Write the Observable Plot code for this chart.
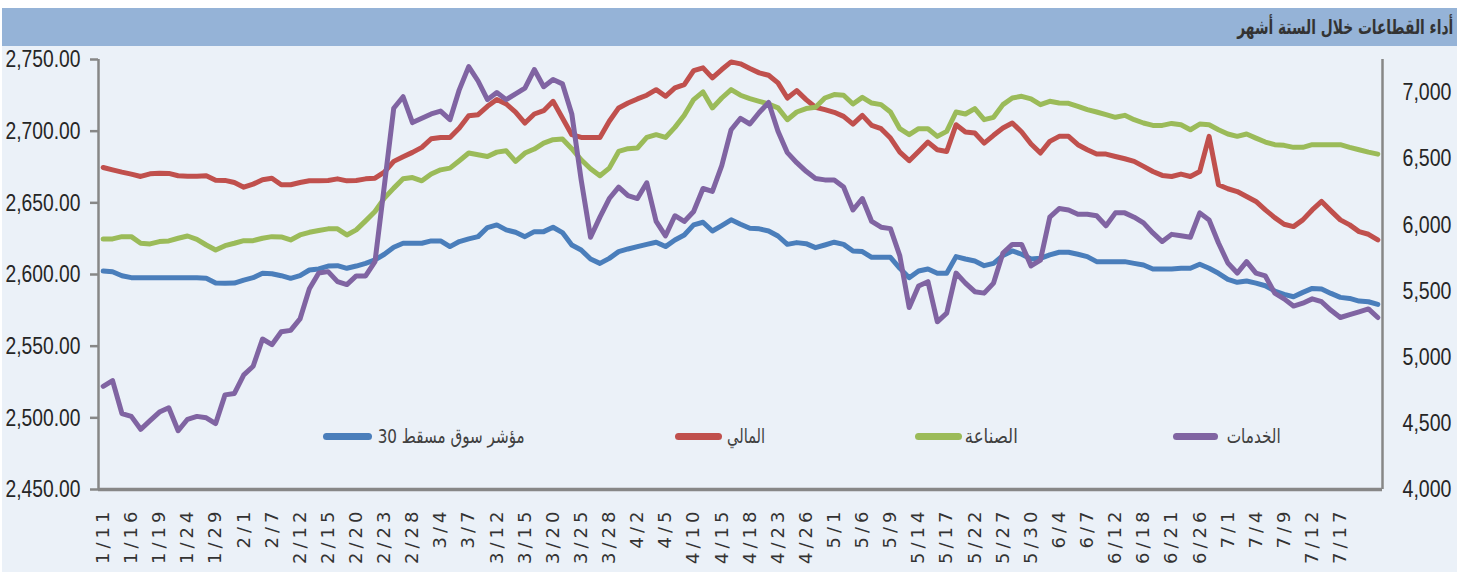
<!DOCTYPE html>
<html lang="ar">
<head>
<meta charset="utf-8">
<script src="https://cdn.jsdelivr.net/npm/d3@7"></script>
<script src="https://cdn.jsdelivr.net/npm/@observablehq/plot@0.6"></script>
<style>
  html, body { margin: 0; padding: 0; background: #ffffff; }
  #page { position: relative; width: 1469px; height: 572px; overflow: hidden; background: #ffffff; }
  #bg { position: absolute; left: 2px; top: 8px; width: 1455px; height: 564px; background: #EBF1F8; }
  #titlebar { position: absolute; left: 2px; top: 8px; width: 1455px; height: 38px; background: #95B3D7; }
  #title { position: absolute; right: 16px; top: 8px; height: 38px; line-height: 38px; direction: rtl; white-space: nowrap;
           font-family: "DejaVu Sans", sans-serif; font-weight: bold; font-size: 20px; color: #333333;
           transform-origin: right center; }
  #chart { position: absolute; left: 0; top: 0; }
  #chart g[aria-label="x-axis tick label"] { letter-spacing: 4px; }
  .leg-sw { position: absolute; height: 7px; border-radius: 4px; }
  .leg-tx { position: absolute; direction: rtl; white-space: nowrap; font-family: "DejaVu Sans", sans-serif;
            font-size: 20px; color: #404040; line-height: 24px; transform-origin: right center; }
</style>
</head>
<body>
<div id="page">
  <div id="bg"></div>
  <div id="titlebar"></div>
  <div id="title">أداء القطاعات خلال الستة أشهر</div>
  <div id="chart"></div>
  <div id="legend"></div>
</div>
<script>
// ---- data ----
const tickLabels = ["1/11","1/16","1/19","1/24","1/29","2/1","2/7","2/12","2/15","2/20","2/23","2/28",
  "3/4","3/7","3/12","3/15","3/20","3/25","3/28","4/2","4/5","4/10","4/15","4/18","4/23","4/26",
  "5/1","5/6","5/9","5/14","5/17","5/22","5/27","5/30","6/4","6/7","6/12","6/18","6/21","6/26",
  "7/1","7/4","7/9","7/12","7/17"];

// مؤشر سوق مسقط 30 (right axis)
const msm30 = [5651,5646,5616,5601,5601,5601,5601,5601,5601,5601,5601,5596,5560,5558,5560,5583,5601,5634,5631,5616,5596,5616,5659,
  5667,5689,5692,5672,5689,5709,5735,5778,5831,5861,5861,5861,5879,5879,5836,5874,5894,5911,5980,6000,5962,5944,5911,
  5949,5949,5982,5942,5848,5810,5742,5709,5747,5798,5818,5836,5853,5869,5836,5886,5924,6000,6020,5954,5995,6038,6005,
  5975,5970,5954,5916,5853,5866,5858,5828,5848,5869,5853,5803,5798,5755,5755,5755,5672,5601,5651,5667,5634,5634,5760,
  5742,5727,5692,5709,5768,5803,5778,5742,5747,5773,5793,5793,5778,5760,5722,5722,5722,5722,5709,5697,5667,5667,5667,
  5672,5672,5702,5672,5634,5588,5566,5576,5560,5540,5500,5475,5457,5490,5520,5515,5482,5452,5444,5424,5419,5399];

// المالي (right axis)
const financial = [6434,6416,6399,6384,6366,6386,6391,6389,6371,6368,6368,6371,6338,6336,6320,6285,6308,6341,6353,6303,6303,6320,6333,
  6333,6336,6348,6333,6336,6348,6353,6399,6480,6515,6548,6586,6651,6661,6661,6732,6825,6833,6896,6947,6914,6853,6770,
  6838,6863,6934,6808,6682,6661,6661,6661,6783,6884,6921,6952,6980,7022,6972,7035,7060,7166,7187,7111,7174,7232,7217,
  7182,7149,7131,7073,6959,7015,6947,6889,6871,6851,6820,6762,6828,6752,6727,6656,6550,6485,6555,6626,6568,6555,6757,
  6702,6694,6618,6677,6732,6770,6702,6611,6543,6631,6669,6669,6606,6568,6535,6535,6517,6500,6480,6442,6404,6374,6366,
  6384,6366,6404,6669,6303,6273,6252,6214,6177,6113,6055,6005,5987,6038,6113,6177,6106,6038,6000,5949,5929,5886];

// الصناعة (right axis)
const industry = [5894,5894,5911,5911,5861,5856,5874,5879,5899,5916,5891,5848,5810,5843,5861,5881,5881,5899,5911,5909,5886,5924,5944,
  5957,5970,5970,5924,5962,6030,6101,6202,6278,6348,6358,6333,6384,6416,6429,6485,6543,6530,6517,6550,6560,6480,6543,
  6573,6618,6644,6649,6576,6492,6424,6371,6429,6555,6576,6581,6661,6682,6661,6737,6828,6947,7005,6884,6959,7022,6980,
  6954,6934,6914,6884,6795,6853,6879,6889,6959,6985,6980,6914,6964,6921,6909,6853,6727,6682,6727,6727,6669,6707,6853,
  6838,6879,6795,6813,6909,6959,6972,6952,6909,6934,6921,6919,6896,6871,6853,6833,6813,6828,6795,6770,6752,6752,6767,
  6757,6719,6762,6757,6719,6687,6669,6687,6656,6626,6606,6601,6586,6586,6606,6606,6606,6606,6586,6568,6550,6535];

// الخدمات (left axis)
const services = [2522,2526,2503,2501,2492,2498,2504,2507,2491,2499,2501,2500,2496,2516,2517,2530,2536,2555,2551,2560,2561,2569,2590,
  2601,2602,2595,2593,2599,2599,2609,2662,2716,2724,2706,2709,2712,2714,2708,2729,2745,2735,2722,2727,2722,2726,2730,
  2743,2731,2736,2733,2712,2666,2626,2640,2653,2661,2655,2653,2664,2637,2627,2641,2637,2644,2660,2658,2676,2701,2709,
  2705,2713,2720,2700,2685,2678,2672,2667,2666,2666,2661,2645,2653,2637,2633,2632,2613,2577,2592,2595,2567,2573,2601,
  2594,2588,2587,2594,2615,2621,2621,2606,2610,2640,2646,2645,2642,2642,2641,2634,2643,2643,2640,2636,2629,2623,2628,
  2627,2626,2643,2638,2622,2608,2601,2609,2601,2599,2587,2583,2578,2580,2583,2581,2575,2570,2572,2574,2576,2570];

const leftTicks = [2450, 2500, 2550, 2600, 2650, 2700, 2750];
const rightTicks = [4000, 4500, 5000, 5500, 6000, 6500, 7000];
const seriesNames = ["مؤشر سوق مسقط 30", "المالي", "الصناعة", "الخدمات"];
const seriesColors = ["#4A7EBB", "#C0504D", "#9BBB59", "#8064A2"];

// ---- scales ----
const leftMin = 2450, leftMax = 2750, rightMin = 4000, rightMax = 7250;
const toRight = v => rightMin + (v - leftMin) * (rightMax - rightMin) / (leftMax - leftMin);
const toLeft = r => leftMin + (r - rightMin) * (leftMax - leftMin) / (rightMax - rightMin);
const n = msm30.length;
const tickIdx = tickLabels.map((_, k) => k * 3);
const axisGrey = "#878787";
const numFont = "'Liberation Sans', Arial, sans-serif";

const lineOpts = (color) => ({x: (d, i) => i, y: d => d, stroke: color, strokeWidth: 5,
  strokeLinejoin: "round", strokeLinecap: "round"});

const chart = Plot.plot({
  width: 1469,
  height: 572,
  marginTop: 59,
  marginBottom: 83,
  marginLeft: 98,
  marginRight: 87,
  style: {background: "transparent", color: "#262626"},
  x: {type: "linear", domain: [-0.5, n - 0.5]},
  y: {domain: [rightMin, rightMax]},
  marks: [
    Plot.line(msm30, lineOpts(seriesColors[0])),
    Plot.line(financial, lineOpts(seriesColors[1])),
    Plot.line(industry, lineOpts(seriesColors[2])),
    Plot.line(services, {...lineOpts(seriesColors[3]), y: d => toRight(d)}),
    Plot.ruleY([rightMin], {stroke: axisGrey, strokeWidth: 3.5}),
    Plot.ruleX([-0.5], {stroke: axisGrey, strokeWidth: 2.5}),
    Plot.ruleX([n - 0.5], {stroke: axisGrey, strokeWidth: 2.5}),
    Plot.axisY(leftTicks.map(toRight), {
      anchor: "left", tickSize: 8, tickPadding: 10, stroke: axisGrey, strokeWidth: 2.5,
      fill: "#262626", fontSize: 24, fontFamily: numFont,
      tickFormat: d => d3.format(",.2f")(Math.round(toLeft(d))), label: null
    }),
    Plot.axisY(rightTicks, {
      anchor: "right", tickSize: 0, tickPadding: 20, fill: "#262626", fontSize: 24, fontFamily: numFont,
      tickFormat: d => d3.format(",")(d), label: null
    }),
    Plot.axisX(tickIdx, {
      anchor: "bottom", tickSize: 0, tickPadding: 18, tickRotate: -90, fill: "#333333",
      fontSize: 18, fontFamily: "'DejaVu Sans', sans-serif",
      tickFormat: i => tickLabels[i / 3], label: null
    })
  ]
});
document.getElementById("chart").appendChild(chart);

// narrow numeric labels (the reference uses a condensed face)
chart.querySelectorAll('g[aria-label="y-axis tick label"] text').forEach(t => {
  const s = t.textContent;
  t.setAttribute("textLength", s.includes(".") ? 75 : 49);
  t.setAttribute("lengthAdjust", "spacingAndGlyphs");
});

// ---- title fit ----
const title = document.getElementById("title");
const tw = title.getBoundingClientRect().width;
title.style.transform = `scaleX(${216 / tw})`;

// ---- legend (inside plot area) ----
const legend = document.getElementById("legend");
const legendItems = [
  {sw: [323, 372], txRight: 525, w: 147},
  {sw: [675, 722], txRight: 765, w: 38},
  {sw: [915, 962], txRight: 1018, w: 53},
  {sw: [1173, 1218], txRight: 1281, w: 54}
];
legendItems.forEach((it, k) => {
  const sw = document.createElement("div");
  sw.className = "leg-sw";
  sw.style.left = it.sw[0] + "px";
  sw.style.width = (it.sw[1] - it.sw[0]) + "px";
  sw.style.top = "433px";
  sw.style.background = seriesColors[k];
  legend.appendChild(sw);
  const tx = document.createElement("div");
  tx.className = "leg-tx";
  tx.textContent = seriesNames[k];
  tx.style.right = (1469 - it.txRight) + "px";
  tx.style.top = "424px";
  legend.appendChild(tx);
  const w = tx.getBoundingClientRect().width;
  tx.style.transform = `scaleX(${Math.min(1, it.w / w)})`;
});
</script>
</body>
</html>
